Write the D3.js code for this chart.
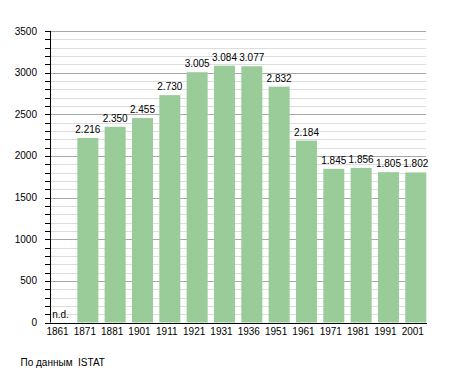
<!DOCTYPE html>
<html>
<head>
<meta charset="utf-8">
<script src="https://cdnjs.cloudflare.com/ajax/libs/d3/7.8.5/d3.min.js"></script>
<style>
  body { margin: 0; background: #fff; }
  svg text { font-family: "Liberation Sans", Arial, sans-serif; font-size: 10px; fill: #000; }
</style>
</head>
<body>
<svg id="chart" width="455" height="373"></svg>
<script>
(function() {

    // census years and population (null = no data)
    var years = ["1861", "1871", "1881", "1901", "1911", "1921", "1931",
                 "1936", "1951", "1961", "1971", "1981", "1991", "2001"];
    var population = [null, 2216, 2350, 2455, 2730, 3005, 3084,
                      3077, 2832, 2184, 1845, 1856, 1805, 1802];
    var yTicks = [0, 500, 1000, 1500, 2000, 2500, 3000, 3500];
    var sourceNote = "По данным\u00a0 ISTAT";

    var svg = d3.select("#chart");

    var x = d3.scaleBand()
        .domain(years)
        .range([50, 432.6]);

    var y = d3.scaleLinear()
        .domain([0, 3500])
        .range([322.5, 31]);

    var barW = 21;
    var gridRight = 426;

    var it = d3.formatLocale({ decimal: ",", thousands: ".", grouping: [3], currency: ["", ""] });
    var fmt = it.format(",d");

    // minor grid every 100
    var minor = d3.range(100, 3501, 100).filter(function(v) { return v % 500 !== 0; });
    svg.append("g").selectAll("line")
        .data(minor)
        .enter().append("line")
        .attr("x1", 50).attr("x2", gridRight)
        .attr("y1", function(d) { return Math.round(y(d)) + 0.5; })
        .attr("y2", function(d) { return Math.round(y(d)) + 0.5; })
        .style("stroke", "#dddddd");

    // major grid every 500
    svg.append("g").selectAll("line")
        .data(yTicks.filter(function(v) { return v > 0; }))
        .enter().append("line")
        .attr("x1", 50).attr("x2", gridRight)
        .attr("y1", function(d) { return Math.round(y(d)) + 0.5; })
        .attr("y2", function(d) { return Math.round(y(d)) + 0.5; })
        .style("stroke", "#a8a8a8");

    var data = years.map(function(yr, i) { return { year: yr, value: population[i] }; });

    // bars
    svg.append("g").selectAll("rect")
        .data(data.filter(function(d) { return d.value !== null; }))
        .enter().append("rect")
        .attr("x", function(d) { return x(d.year); })
        .attr("width", barW)
        .attr("y", function(d) { return y(d.value); })
        .attr("height", function(d) { return y(0) - y(d.value); })
        .style("fill", "#99cc99");

    // value labels
    svg.append("g").selectAll("text")
        .data(data)
        .enter().append("text")
        .attr("x", function(d) { return x(d.year) + barW / 2; })
        .attr("y", function(d) { return y(d.value === null ? 0 : d.value) - 5; })
        .attr("text-anchor", "middle")
        .text(function(d) { return d.value === null ? "n.d." : fmt(d.value); });

    // y axis with minor ticks
    var yAxis = svg.append("g");
    yAxis.append("line")
        .attr("x1", 50.5).attr("x2", 50.5)
        .attr("y1", y(3500)).attr("y2", y(0))
        .style("stroke", "#000");
    yAxis.selectAll("line.tick")
        .data(d3.range(0, 3501, 100))
        .enter().append("line")
        .attr("class", "tick")
        .attr("x1", 45).attr("x2", 50)
        .attr("y1", function(d) { return Math.round(y(d)) + 0.5; })
        .attr("y2", function(d) { return Math.round(y(d)) + 0.5; })
        .style("stroke", "#000");
    yAxis.selectAll("text")
        .data(yTicks)
        .enter().append("text")
        .attr("x", 37)
        .attr("y", function(d) { return y(d) + 3.5; })
        .attr("text-anchor", "end")
        .text(function(d) { return d; });

    // x axis
    svg.append("line")
        .attr("x1", 45).attr("x2", 427)
        .attr("y1", Math.round(y(0)) + 0.5).attr("y2", Math.round(y(0)) + 0.5)
        .style("stroke", "#000");
    svg.append("g").selectAll("text")
        .data(years)
        .enter().append("text")
        .attr("x", function(d) { return x(d) + barW / 2 - 3; })
        .attr("y", 334.5)
        .attr("text-anchor", "middle")
        .text(function(d) { return d; });

    svg.append("text")
        .attr("x", 20.5)
        .attr("y", 366)
        .text(sourceNote);

})();
</script>
</body>
</html>
